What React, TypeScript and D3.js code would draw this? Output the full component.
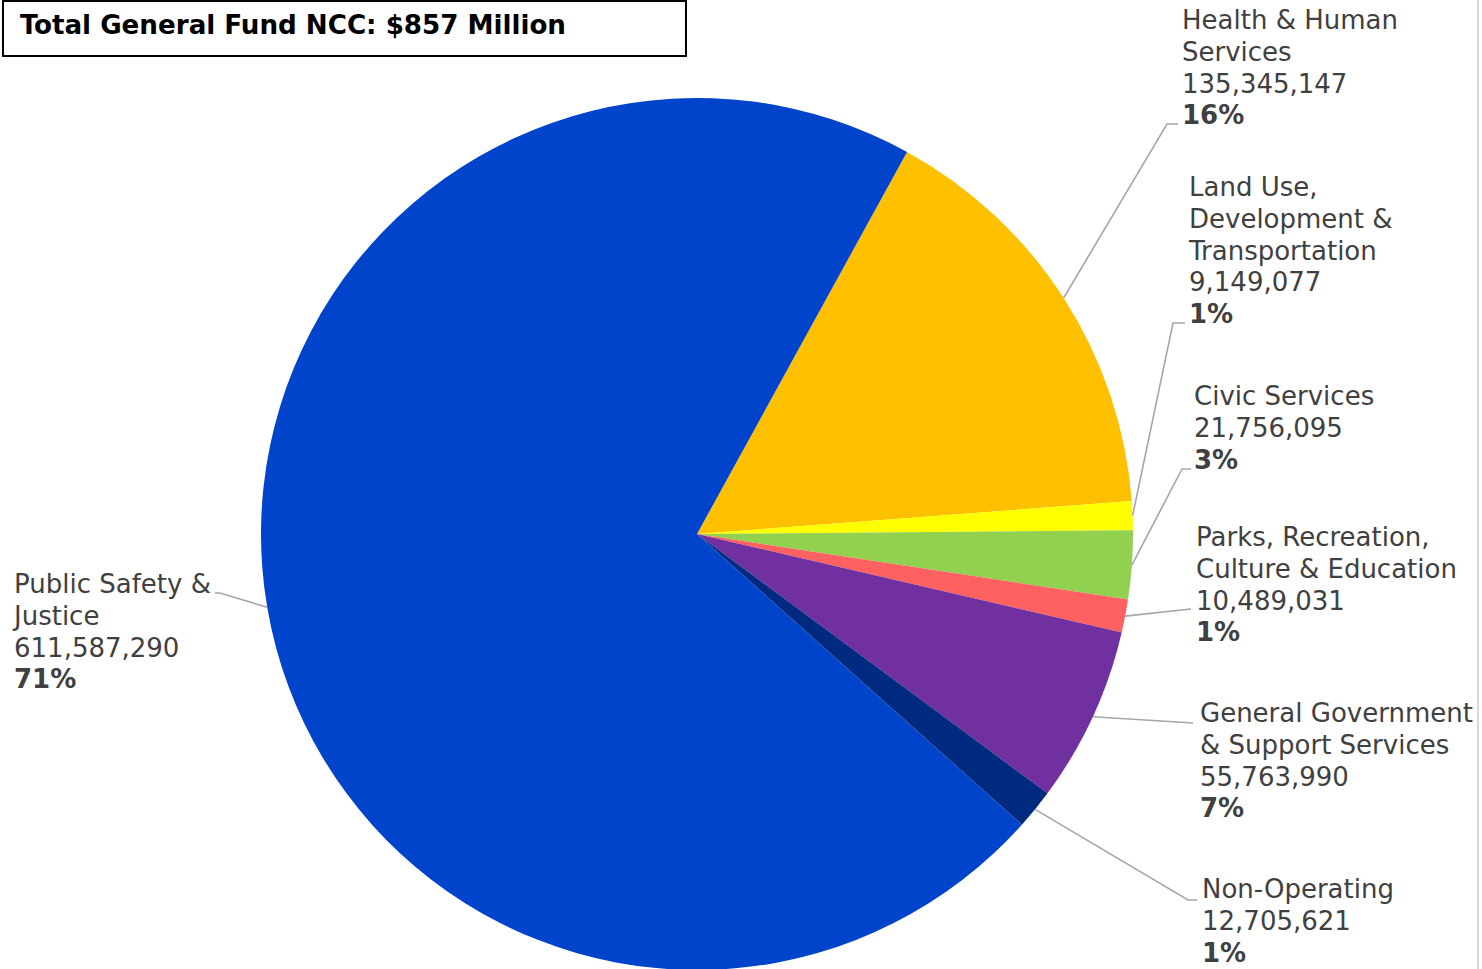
import React from "react";
import * as d3 from "d3";

const categories: string[] = [
  "Health & Human Services",
  "Land Use, Development & Transportation",
  "Civic Services",
  "Parks, Recreation, Culture & Education",
  "General Government & Support Services",
  "Non-Operating",
  "Public Safety & Justice",
];
const labelLines: string[][] = [
  ["Health & Human", "Services"],
  ["Land Use,", "Development &", "Transportation"],
  ["Civic Services"],
  ["Parks, Recreation,", "Culture & Education"],
  ["General Government", "& Support Services"],
  ["Non-Operating"],
  ["Public Safety &", "Justice"],
];
const values: number[] = [
  135345147, 9149077, 21756095, 10489031, 55763990, 12705621, 611587290,
];
const colors: string[] = [
  "#FFC000", "#FFFF00", "#92D050", "#FF6161", "#7030A0", "#002A80", "#0044CC",
];
const titleText = "Total General Fund NCC: $857 Million";

// layout: label x, first baseline y, elbow point, end of leader
const labelLayout = [
  { x: 1182, y: 29, elbow: [1167, 124], end: [1178, 124] },
  { x: 1189, y: 196, elbow: [1173, 323], end: [1185, 323] },
  { x: 1194, y: 405, elbow: [1182, 469], end: [1191, 469] },
  { x: 1196, y: 546, elbow: [1191, 609], end: [1191, 609] },
  { x: 1200, y: 722, elbow: [1193, 723], end: [1193, 723] },
  { x: 1202, y: 898, elbow: [1188, 900], end: [1197, 900] },
  { x: 14, y: 593, elbow: [220, 593], end: [215, 593] },
];

const W = 1482;
const H = 969;
const cx = 697;
const cy = 534;
const R = 436;
const startDeg = 28.8;

export default function App() {
  const total = d3.sum(values);
  const pie = d3
    .pie<number>()
    .sort(null)
    .value((d) => d)
    .startAngle((startDeg * Math.PI) / 180)
    .endAngle((startDeg * Math.PI) / 180 + 2 * Math.PI);
  const arcs = pie(values);
  const arc = d3.arc<d3.PieArcDatum<number>>().innerRadius(0).outerRadius(R);
  const edge = d3.arc<d3.PieArcDatum<number>>().innerRadius(R).outerRadius(R);
  const fmt = d3.format(",");
  const pct = d3.format(".0%");
  const lh = 31.8;
  const font = "'DejaVu Sans', Verdana, sans-serif";

  return (
    <svg
      width={W}
      height={H}
      style={{ position: "absolute", left: 0, top: 0, background: "#fff" }}
    >
      <rect x={0} y={0} width={W} height={H} fill="#fff" />
      <line x1={1478} y1={0} x2={1478} y2={H} stroke="#d9d9d9" strokeWidth={2} />
      <g transform={`translate(${cx},${cy})`}>
        {arcs.map((a, i) => (
          <path key={categories[i]} d={arc(a) || ""} fill={colors[i]} />
        ))}
      </g>
      {arcs.map((a, i) => {
        const [px, py] = edge.centroid(a);
        const L = labelLayout[i];
        const pts = [
          [px + cx, py + cy],
          L.elbow,
          L.end,
        ];
        return (
          <polyline
            key={"l" + i}
            points={pts.map((p) => p.join(",")).join(" ")}
            fill="none"
            stroke="#a6a6a6"
            strokeWidth={1.6}
          />
        );
      })}
      {arcs.map((a, i) => {
        const L = labelLayout[i];
        const lines = labelLines[i];
        return (
          <text
            key={"t" + i}
            x={L.x}
            y={L.y}
            fontFamily={font}
            fontSize={26}
            fill="#404040"
          >
            {lines.map((ln, j) => (
              <tspan key={j} x={L.x} y={L.y + j * lh}>
                {ln}
              </tspan>
            ))}
            <tspan x={L.x} y={L.y + lines.length * lh}>
              {fmt(values[i])}
            </tspan>
            <tspan x={L.x} y={L.y + (lines.length + 1) * lh} fontWeight="bold">
              {pct(values[i] / total)}
            </tspan>
          </text>
        );
      })}
      <rect x={3} y={1} width={683} height={55} fill="#fff" stroke="#000" strokeWidth={2} />
      <text
        x={20}
        y={34}
        fontFamily="'DejaVu Sans Condensed', 'DejaVu Sans', sans-serif"
        fontWeight="bold"
        fontSize={26}
        fill="#000"
        textLength={546}
        lengthAdjust="spacingAndGlyphs"
      >
        {titleText}
      </text>
    </svg>
  );
}
